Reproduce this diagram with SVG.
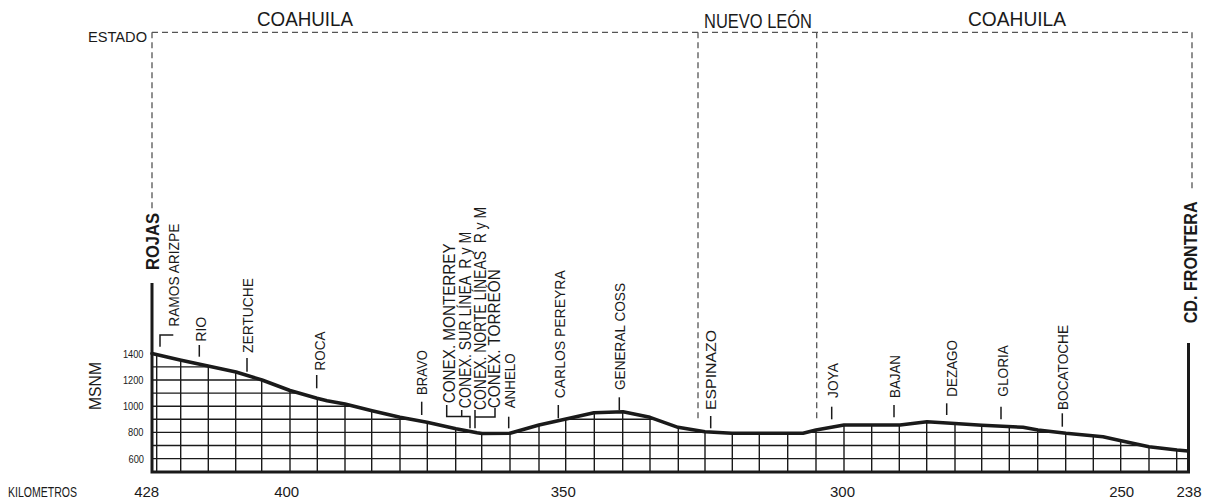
<svg xmlns="http://www.w3.org/2000/svg" width="1208" height="502" viewBox="0 0 1208 502">
<style>
text{font-family:"Liberation Sans",Arial,sans-serif;fill:#1a1a1a}
.st{font-size:15px}
.cx{font-size:16px}
.bold{font-weight:bold}
.km{font-size:15px;text-anchor:middle}
.el{font-size:11.5px;text-anchor:end}
.ttl{font-size:21px}
.dash{fill:none;stroke:#555;stroke-width:1.3;stroke-dasharray:6 4}
.tick{fill:none;stroke:#1a1a1a;stroke-width:1.5}
.grid{fill:none;stroke:#1a1a1a;stroke-width:1.4}
.axis{fill:none;stroke:#1a1a1a;stroke-width:3}
.prof{fill:none;stroke:#1a1a1a;stroke-width:3.5;stroke-linejoin:round;stroke-linecap:round}
</style>
<defs>
<clipPath id="under">
<polygon points="152,353.5 180,360 208,366 236,372 262,380 290,390.5 317,398.3 327,400.7 345,404 372,410.7 400,417.3 427,422.3 456,428.7 477,432.7 482,433.5 510,433.3 539,425 566,419 594,412.7 623,411.7 650,417.3 678,427.3 705,431.7 732,433.3 803,433.3 816,430 844,425 900,425 927,421.7 955,423.5 982,425.3 1023,427.3 1038,430 1066,433.3 1103,436.7 1121,440.7 1149,446.7 1177,450 1188,451 1188,472 152,472"/>
</clipPath>
</defs>

<g id="states">
<text x="147" y="42" style="font-size:14px;text-anchor:end" textLength="59" lengthAdjust="spacingAndGlyphs">ESTADO</text>
<text class="ttl" x="257" y="25.5" textLength="96" lengthAdjust="spacingAndGlyphs">COAHUILA</text>
<text class="ttl" x="704" y="27.5" textLength="108" lengthAdjust="spacingAndGlyphs">NUEVO LEÓN</text>
<text class="ttl" x="968" y="25.5" textLength="98" lengthAdjust="spacingAndGlyphs">COAHUILA</text>
<path class="dash" d="M152,32.3 H1192 M152,32.3 V212 M698,32.3 V421 M816.7,32.3 V420 M1192,32.3 V192"/>
</g>

<g id="grid">
<g clip-path="url(#under)">
<path class="grid" d="M152,458.6H1188M152,445.5H1188M152,432.4H1188M152,419.3H1188M152,406.2H1188M152,393.1H1188M152,380H1188M152,366.9H1188M152,353.8H1188"/>
<path class="grid" d="M156.7,472V340M180.7,472V340M208.3,472V340M235.7,472V340M261.7,472V340M290,472V340M317.3,472V340M345,472V340M371.7,472V340M400,472V340M427.3,472V340M455.7,472V340M481.7,472V340M510,472V340M539,472V340M565.7,472V340M594.3,472V340M622.7,472V340M650,472V340M678.3,472V340M705,472V340M732.3,472V340M759.3,472V340M787.7,472V340M816,472V340M844,472V340M871.7,472V340M899.3,472V340M926.7,472V340M955,472V340M981.7,472V340M1009.3,472V340M1037.7,472V340M1065.7,472V340M1093.3,472V340M1120.7,472V340M1149,472V340M1176.7,472V340"/>
</g>
<path class="axis" d="M152,283 V472 M150.5,472 H1190 M1188.5,343 V473"/>
<polyline class="prof" points="152,353.5 180,360 208,366 236,372 262,380 290,390.5 317,398.3 327,400.7 345,404 372,410.7 400,417.3 427,422.3 456,428.7 477,432.7 482,433.5 510,433.3 539,425 566,419 594,412.7 623,411.7 650,417.3 678,427.3 705,431.7 732,433.3 803,433.3 816,430 844,425 900,425 927,421.7 955,423.5 982,425.3 1023,427.3 1038,430 1066,433.3 1103,436.7 1121,440.7 1149,446.7 1177,450 1188,451"/>
</g>

<g id="axis-labels">
<text transform="translate(100.5,386) rotate(-90)" style="font-size:16px;text-anchor:middle" textLength="48" lengthAdjust="spacingAndGlyphs">MSNM</text>
<text class="el" x="143.5" y="358" textLength="20.6" lengthAdjust="spacingAndGlyphs">1400</text>
<text class="el" x="143.5" y="384" textLength="20.6" lengthAdjust="spacingAndGlyphs">1200</text>
<text class="el" x="143.5" y="410.3" textLength="20.6" lengthAdjust="spacingAndGlyphs">1000</text>
<text class="el" x="143.5" y="436.3" textLength="15.5" lengthAdjust="spacingAndGlyphs">800</text>
<text class="el" x="144" y="462.6" textLength="15.5" lengthAdjust="spacingAndGlyphs">600</text>
<text x="8" y="497" style="font-size:14px" textLength="69" lengthAdjust="spacingAndGlyphs">KILOMETROS</text>
<text class="km" x="146.7" y="497">428</text>
<text class="km" x="286.7" y="497">400</text>
<text class="km" x="563.3" y="497">350</text>
<text class="km" x="842.5" y="497">300</text>
<text class="km" x="1121.7" y="497">250</text>
<text class="km" x="1189" y="497">238</text>
</g>

<g id="connectors">
<path class="tick" d="M160,346.7 V335 H173.3"/>
<path class="tick" d="M199.3,345 V356.7"/>
<path class="tick" d="M247,358 V371.7"/>
<path class="tick" d="M316.7,375 V388.3"/>
<path class="tick" d="M421.7,401.7 V415"/>
<path class="tick" d="M446.7,405 V416.5 H470 V428.3 M461.7,410 V416.5"/>
<path class="tick" d="M475,410 V428.3 M475,417 H495 V408"/>
<path class="tick" d="M508.7,416.7 V428.3"/>
<path class="tick" d="M558.3,405 V418.3"/>
<path class="tick" d="M619.3,397.3 V410"/>
<path class="tick" d="M710.7,416 V428.3"/>
<path class="tick" d="M831.7,406.7 V419.3"/>
<path class="tick" d="M894,405 V417.3"/>
<path class="tick" d="M946.7,403.3 V415"/>
<path class="tick" d="M1001,406.7 V419.3"/>
<path class="tick" d="M1062.3,413.3 V426.7"/>
</g>

<g id="station-rojas"><text class="bold" transform="translate(158.5,270) rotate(-90)" style="font-size:18px" textLength="57" lengthAdjust="spacingAndGlyphs">ROJAS</text></g>
<g id="station-ramos-arizpe"><text class="st" transform="translate(179.3,326.7) rotate(-90)" textLength="103" lengthAdjust="spacingAndGlyphs">RAMOS ARIZPE</text></g>
<g id="station-rio"><text class="st" transform="translate(206,341.7) rotate(-90)" textLength="25" lengthAdjust="spacingAndGlyphs">RIO</text></g>
<g id="station-zertuche"><text class="st" transform="translate(253.3,353) rotate(-90)" textLength="75" lengthAdjust="spacingAndGlyphs">ZERTUCHE</text></g>
<g id="station-roca"><text class="st" transform="translate(325,370.5) rotate(-90)" textLength="39" lengthAdjust="spacingAndGlyphs">ROCA</text></g>
<g id="station-bravo"><text class="st" transform="translate(426.7,395) rotate(-90)" textLength="45" lengthAdjust="spacingAndGlyphs">BRAVO</text></g>
<g id="station-conex-monterrey"><text class="cx" transform="translate(455,403.3) rotate(-90)" textLength="160" lengthAdjust="spacingAndGlyphs">CONEX. MONTERREY</text></g>
<g id="station-conex-sur"><text class="cx" xml:space="preserve" transform="translate(471,408.3) rotate(-90)" textLength="176.5" lengthAdjust="spacingAndGlyphs">CONEX. SUR LÍNEA  R y M</text></g>
<g id="station-conex-norte"><text class="cx" xml:space="preserve" transform="translate(486,410) rotate(-90)" textLength="203" lengthAdjust="spacingAndGlyphs">CONEX. NORTE LÍNEAS  R y M</text></g>
<g id="station-conex-torreon"><text class="cx" transform="translate(500,408.3) rotate(-90)" textLength="139" lengthAdjust="spacingAndGlyphs">CONEX. TORREÓN</text></g>
<g id="station-anhelo"><text class="st" transform="translate(515,408.3) rotate(-90)" textLength="55" lengthAdjust="spacingAndGlyphs">ANHELO</text></g>
<g id="station-carlos-pereyra"><text class="st" transform="translate(564.5,398.3) rotate(-90)" textLength="128" lengthAdjust="spacingAndGlyphs">CARLOS PEREYRA</text></g>
<g id="station-general-coss"><text class="st" transform="translate(625,390) rotate(-90)" textLength="107" lengthAdjust="spacingAndGlyphs">GENERAL COSS</text></g>
<g id="station-espinazo"><text class="st" transform="translate(716,410) rotate(-90)" textLength="80" lengthAdjust="spacingAndGlyphs">ESPINAZO</text></g>
<g id="station-joya"><text class="st" transform="translate(838,398) rotate(-90)" textLength="35" lengthAdjust="spacingAndGlyphs">JOYA</text></g>
<g id="station-bajan"><text class="st" transform="translate(900,398) rotate(-90)" textLength="43" lengthAdjust="spacingAndGlyphs">BAJAN</text></g>
<g id="station-dezago"><text class="st" transform="translate(956.5,396.7) rotate(-90)" textLength="56.7" lengthAdjust="spacingAndGlyphs">DEZAGO</text></g>
<g id="station-gloria"><text class="st" transform="translate(1008.3,396.7) rotate(-90)" textLength="51.7" lengthAdjust="spacingAndGlyphs">GLORIA</text></g>
<g id="station-bocatoche"><text class="st" transform="translate(1068.3,410) rotate(-90)" textLength="85" lengthAdjust="spacingAndGlyphs">BOCATOCHE</text></g>
<g id="station-cd-frontera"><text class="bold" transform="translate(1197,323.3) rotate(-90)" style="font-size:18px" textLength="122" lengthAdjust="spacingAndGlyphs">CD. FRONTERA</text></g>
</svg>
